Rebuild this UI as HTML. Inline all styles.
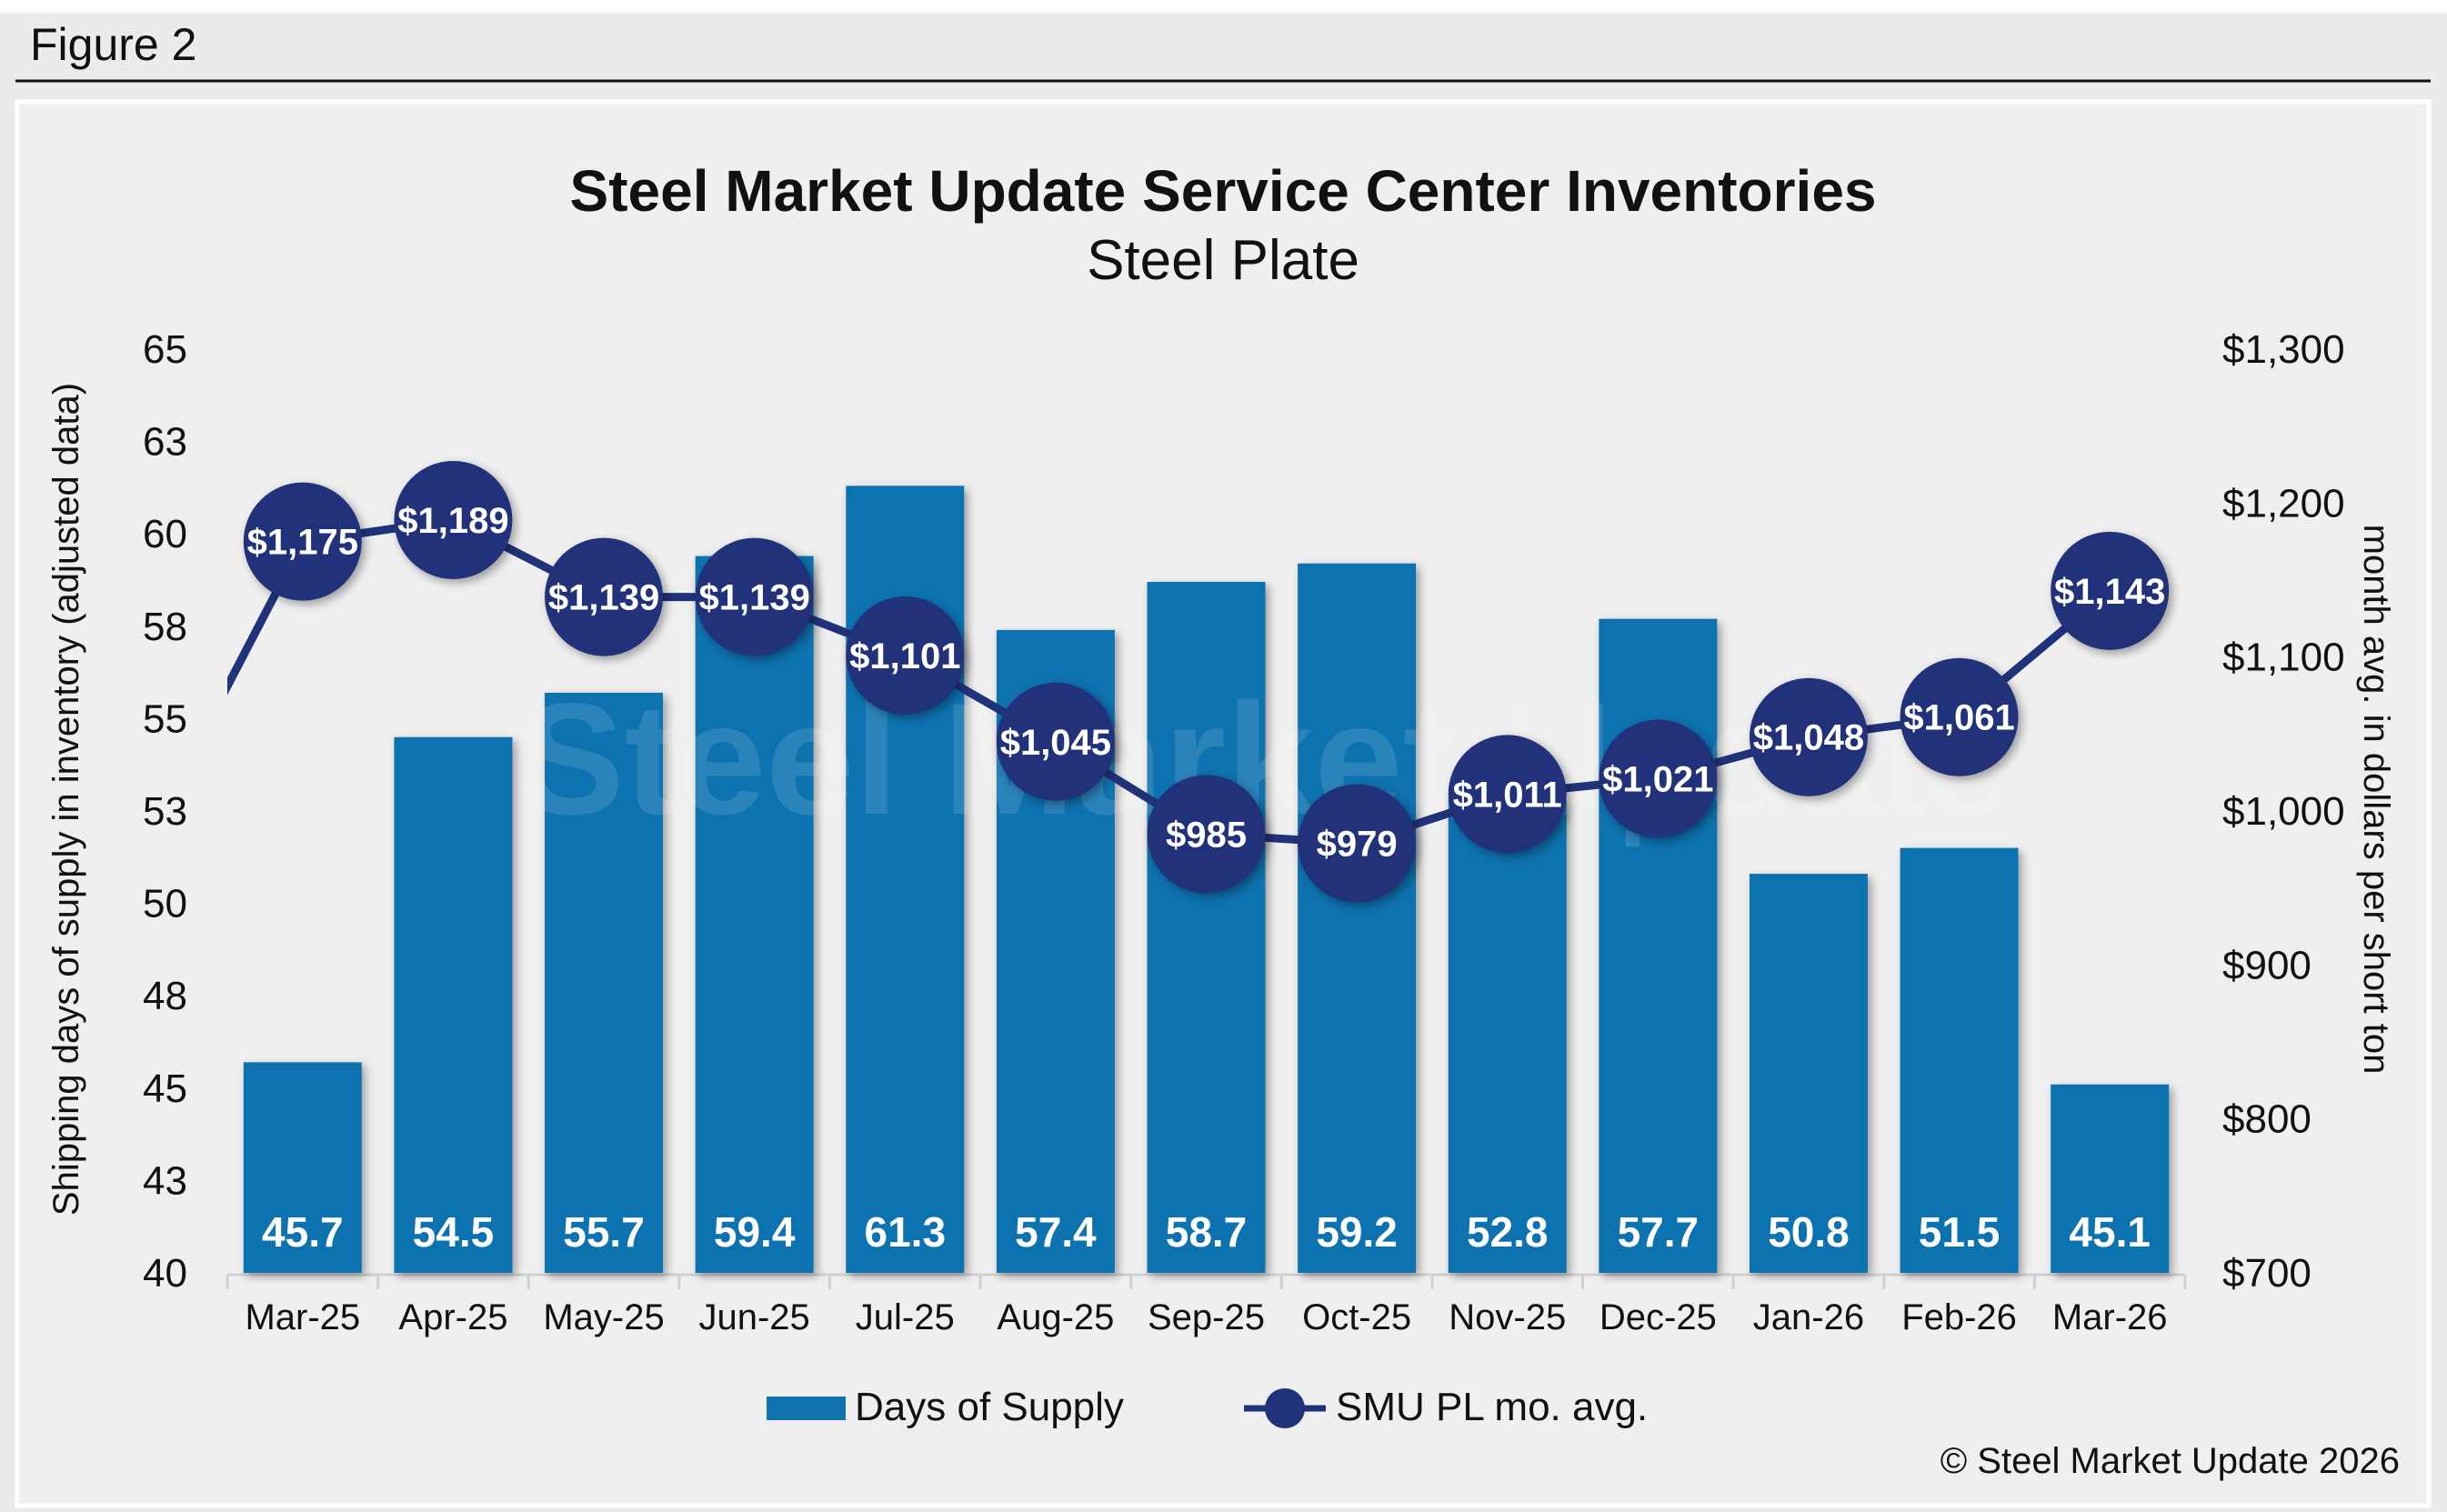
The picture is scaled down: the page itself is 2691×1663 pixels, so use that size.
<!DOCTYPE html>
<html><head><meta charset="utf-8"><style>
html,body{margin:0;padding:0;background:#fff}
svg{display:block;font-family:"Liberation Sans",Arial,sans-serif}
</style></head><body>
<svg id="chart" width="2691" height="1663" viewBox="0 0 2691 1663">
<defs>
<filter id="sh" x="-20%" y="-20%" width="140%" height="140%"><feDropShadow dx="4" dy="4" stdDeviation="5" flood-color="#000" flood-opacity="0.35"/></filter>
<clipPath id="plotclip"><rect x="250" y="370" width="2155" height="1040"/></clipPath>
</defs>
<rect x="0" y="0" width="2691" height="1663" fill="#ebebeb"/>
<rect x="0" y="0" width="2691" height="14" fill="#fff"/>
<text x="33" y="66" font-size="50" fill="#111">Figure 2</text>
<line x1="17" y1="89" x2="2673" y2="89" stroke="#111" stroke-width="3"/>
<rect x="19" y="112" width="2652" height="1544" fill="#efefef" stroke="#fff" stroke-width="5"/>
<text x="1345" y="232" font-size="64" font-weight="bold" text-anchor="middle" fill="#111">Steel Market Update Service Center Inventories</text>
<text x="1345" y="307" font-size="62" text-anchor="middle" fill="#111">Steel Plate</text>
<g id="axes"></g>
<g id="bars"></g>
<text x="570" y="895" font-size="175" fill="#fff" fill-opacity="0.12"><tspan font-weight="bold">Steel Market</tspan><tspan> Update</tspan></text>
<g id="line" clip-path="url(#plotclip)"></g>
<g id="markers"></g>
<text transform="translate(86,879) rotate(-90)" font-size="40" text-anchor="middle" fill="#111">Shipping days of supply in inventory (adjusted data)</text>
<text transform="translate(2600,879) rotate(90)" font-size="40" text-anchor="middle" fill="#111">month avg. in dollars per short ton</text>
<g>
<rect x="843" y="1536" width="87" height="26" fill="#1172b0"/>
<text x="940" y="1562" font-size="44" fill="#111">Days of Supply</text>
<line x1="1368" y1="1549" x2="1458" y2="1549" stroke="#20327a" stroke-width="7"/>
<circle cx="1413" cy="1549" r="22" fill="#20327a"/>
<text x="1469" y="1562" font-size="44" fill="#111">SMU PL mo. avg.</text>
</g>
<text x="2639" y="1620" font-size="40" text-anchor="end" fill="#111">© Steel Market Update 2026</text>
</svg>
<script>
const categories=["Mar-25","Apr-25","May-25","Jun-25","Jul-25","Aug-25","Sep-25","Oct-25","Nov-25","Dec-25","Jan-26","Feb-26","Mar-26"];
const daysSupply=[45.7,54.5,55.7,59.4,61.3,57.4,58.7,59.2,52.8,57.7,50.8,51.5,45.1];
const prices=[1175,1189,1139,1139,1101,1045,985,979,1011,1021,1048,1061,1143];
const priorPrice=987;
const leftTicks=["40","43","45","48","50","53","55","58","60","63","65"];
const rightTicks=["$700","$800","$900","$1,000","$1,100","$1,200","$1,300"];
const NS="http://www.w3.org/2000/svg";
const X0=250,X1=2403,Y0=1400,Y1=384;
const step=(X1-X0)/categories.length;
function xc(i){return X0+step*(i+0.5);}
function yl(v){return Y0-(v-40)/25*(Y0-Y1);}
function yr(v){return Y0-(v-700)/600*(Y0-Y1);}
function mk(tag,attrs,parent,txt){const e=document.createElementNS(NS,tag);for(const k in attrs)e.setAttribute(k,attrs[k]);if(txt!==undefined)e.textContent=txt;parent.appendChild(e);return e;}
const axes=document.getElementById('axes'),bars=document.getElementById('bars'),line=document.getElementById('line'),markers=document.getElementById('markers');
leftTicks.forEach((t,i)=>{const v=40+i*2.5;
const e=mk('text',{x:206,y:yl(v)+15,'font-size':44,'text-anchor':'end',fill:'#111'},axes,t);

});
rightTicks.forEach((t,i)=>{const v=700+i*100;
const e=mk('text',{x:2444,y:yr(v)+15,'font-size':44,fill:'#111'},axes,t);

});
const base=mk('line',{x1:X0,y1:Y0+2,x2:X1,y2:Y0+2,stroke:'#d0d0d0','stroke-width':3},axes);


for(let i=0;i<=categories.length;i++){const t=mk('line',{x1:X0+step*i,y1:Y0+2,x2:X0+step*i,y2:Y0+18,stroke:'#d0d0d0','stroke-width':3},axes);

}
categories.forEach((c,i)=>{const e=mk('text',{x:xc(i),y:1462,'font-size':40,'text-anchor':'middle',fill:'#111'},axes,c);

});
const bw=130;
daysSupply.forEach((v,i)=>{const r=mk('rect',{x:xc(i)-bw/2,y:yl(v),width:bw,height:Y0-yl(v),fill:'#1172b0',filter:'url(#sh)'},bars);


const l=mk('text',{x:xc(i),y:1371,'font-size':46,'font-weight':'bold','text-anchor':'middle',fill:'#fff'},bars,v.toFixed(1));

});
let d='M'+xc(-1)+','+yr(priorPrice);
prices.forEach((p,i)=>{d+=' L'+xc(i)+','+yr(p);});
const pl=mk('path',{d:d,fill:'none',stroke:'#20327a','stroke-width':9,'stroke-linejoin':'round'},line);


prices.forEach((p,i)=>{const c=mk('circle',{cx:xc(i),cy:yr(p),r:65,fill:'#20327a',filter:'url(#sh)'},markers);


const l=mk('text',{x:xc(i),y:yr(p)+14,'font-size':40,'font-weight':'bold','text-anchor':'middle',fill:'#fff'},markers,'$'+p.toLocaleString('en-US'));

});
</script>
</body></html>
